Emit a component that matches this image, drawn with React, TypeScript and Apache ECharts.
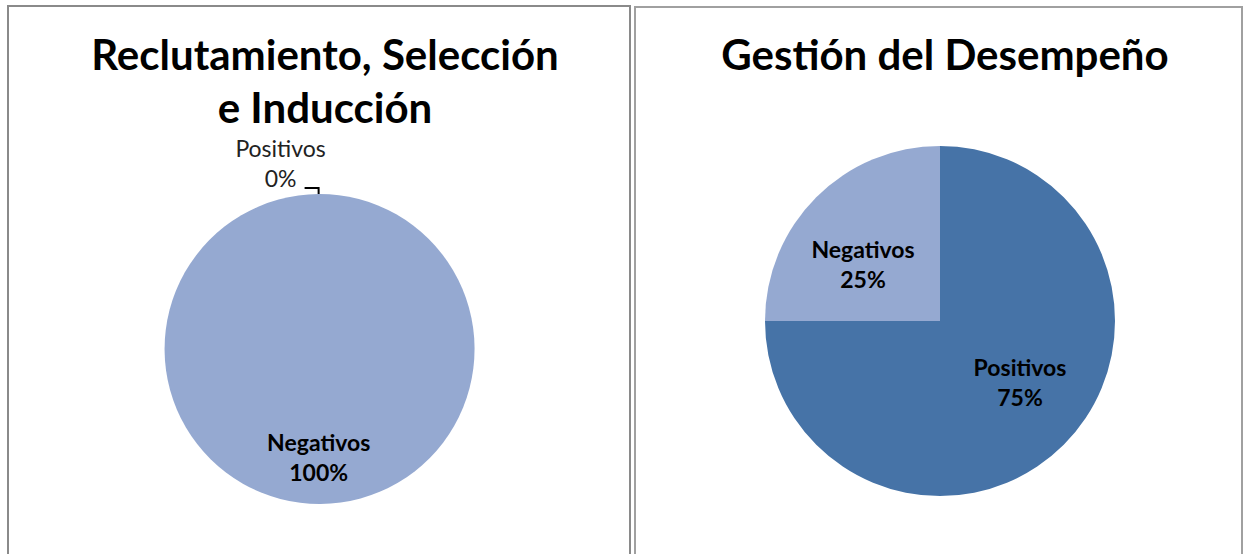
import React, { useEffect, useRef } from "react";
import * as echarts from "echarts";

const titles = ["Reclutamiento, Selección\ne Inducción", "Gestión del Desempeño"];
const categories = ["Positivos", "Negativos"];
const reclutamientoValues = [0, 100];
const desempenoValues = [75, 25];

const LIGHT = "#95A9D1";
const DARK = "#4673A7";
const FONT = "Lato, 'Open Sans', sans-serif";

export default function App() {
  const ref = useRef<HTMLDivElement>(null);
  useEffect(() => {
    if (!ref.current) return;
    const chart = echarts.init(ref.current, undefined, { renderer: "svg" });
    const leftOffsets: any[] = [
      { dx: -19, dy: -25, align: "center" },
      { dx: -2, dy: 28 },
    ];
    const rightOffsets: any[] = [
      { dx: 16, dy: -3 },
      { dx: -13, dy: 7 },
    ];
    const titleStyle = {
      fontFamily: FONT,
      fontSize: 42,
      fontWeight: "bold",
      color: "#000",
      lineHeight: 53,
    };
    chart.setOption({
      animation: false,
      backgroundColor: "#ffffff",
      title: [
        { text: titles[0], left: 320, top: 22, textAlign: "center", textStyle: titleStyle },
        { text: titles[1], left: 940, top: 22, textAlign: "center", textStyle: titleStyle },
      ],
      graphic: [
        {
          type: "rect",
          shape: { x: 8, y: 6, width: 622, height: 620 },
          style: { fill: "none", stroke: "#8a8a8a", lineWidth: 2 },
          silent: true,
        },
        {
          type: "rect",
          shape: { x: 635, y: 7, width: 607, height: 620 },
          style: { fill: "none", stroke: "#a0a0a0", lineWidth: 2 },
          silent: true,
        },
      ],
      series: [
        {
          type: "pie",
          center: [320, 349],
          radius: 155,
          startAngle: 90.5,
          clockwise: true,
          avoidLabelOverlap: false,
          data: categories.map((name, i) => ({
            name,
            value: reclutamientoValues[i],
            itemStyle: { color: LIGHT },
            label:
              i === 0
                ? { position: "outside", fontWeight: "normal", color: "#222" }
                : { position: "inside", fontWeight: "bold", color: "#000" },
            labelLine:
              i === 0
                ? { show: true, length: 6, length2: 14, lineStyle: { color: "#000", width: 2 } }
                : { show: false },
          })),
          label: {
            formatter: "{b}\n{d}%",
            fontFamily: FONT,
            fontSize: 23,
            lineHeight: 30,
            align: "center",
          },
          labelLayout: (p: any) => leftOffsets[p.dataIndex],
        },
        {
          type: "pie",
          center: [940, 321],
          radius: 175,
          startAngle: 90,
          clockwise: true,
          avoidLabelOverlap: false,
          data: categories.map((name, i) => ({
            name,
            value: desempenoValues[i],
            itemStyle: { color: i === 0 ? DARK : LIGHT },
          })),
          label: {
            position: "inside",
            formatter: "{b}\n{d}%",
            fontFamily: FONT,
            fontSize: 23,
            lineHeight: 30,
            fontWeight: "bold",
            color: "#000",
            align: "center",
          },
          labelLine: { show: false },
          labelLayout: (p: any) => rightOffsets[p.dataIndex],
        },
      ],
    });
    return () => chart.dispose();
  }, []);
  return (
    <div
      ref={ref}
      style={{ position: "fixed", left: 0, top: 0, width: 1244, height: 554 }}
    />
  );
}
